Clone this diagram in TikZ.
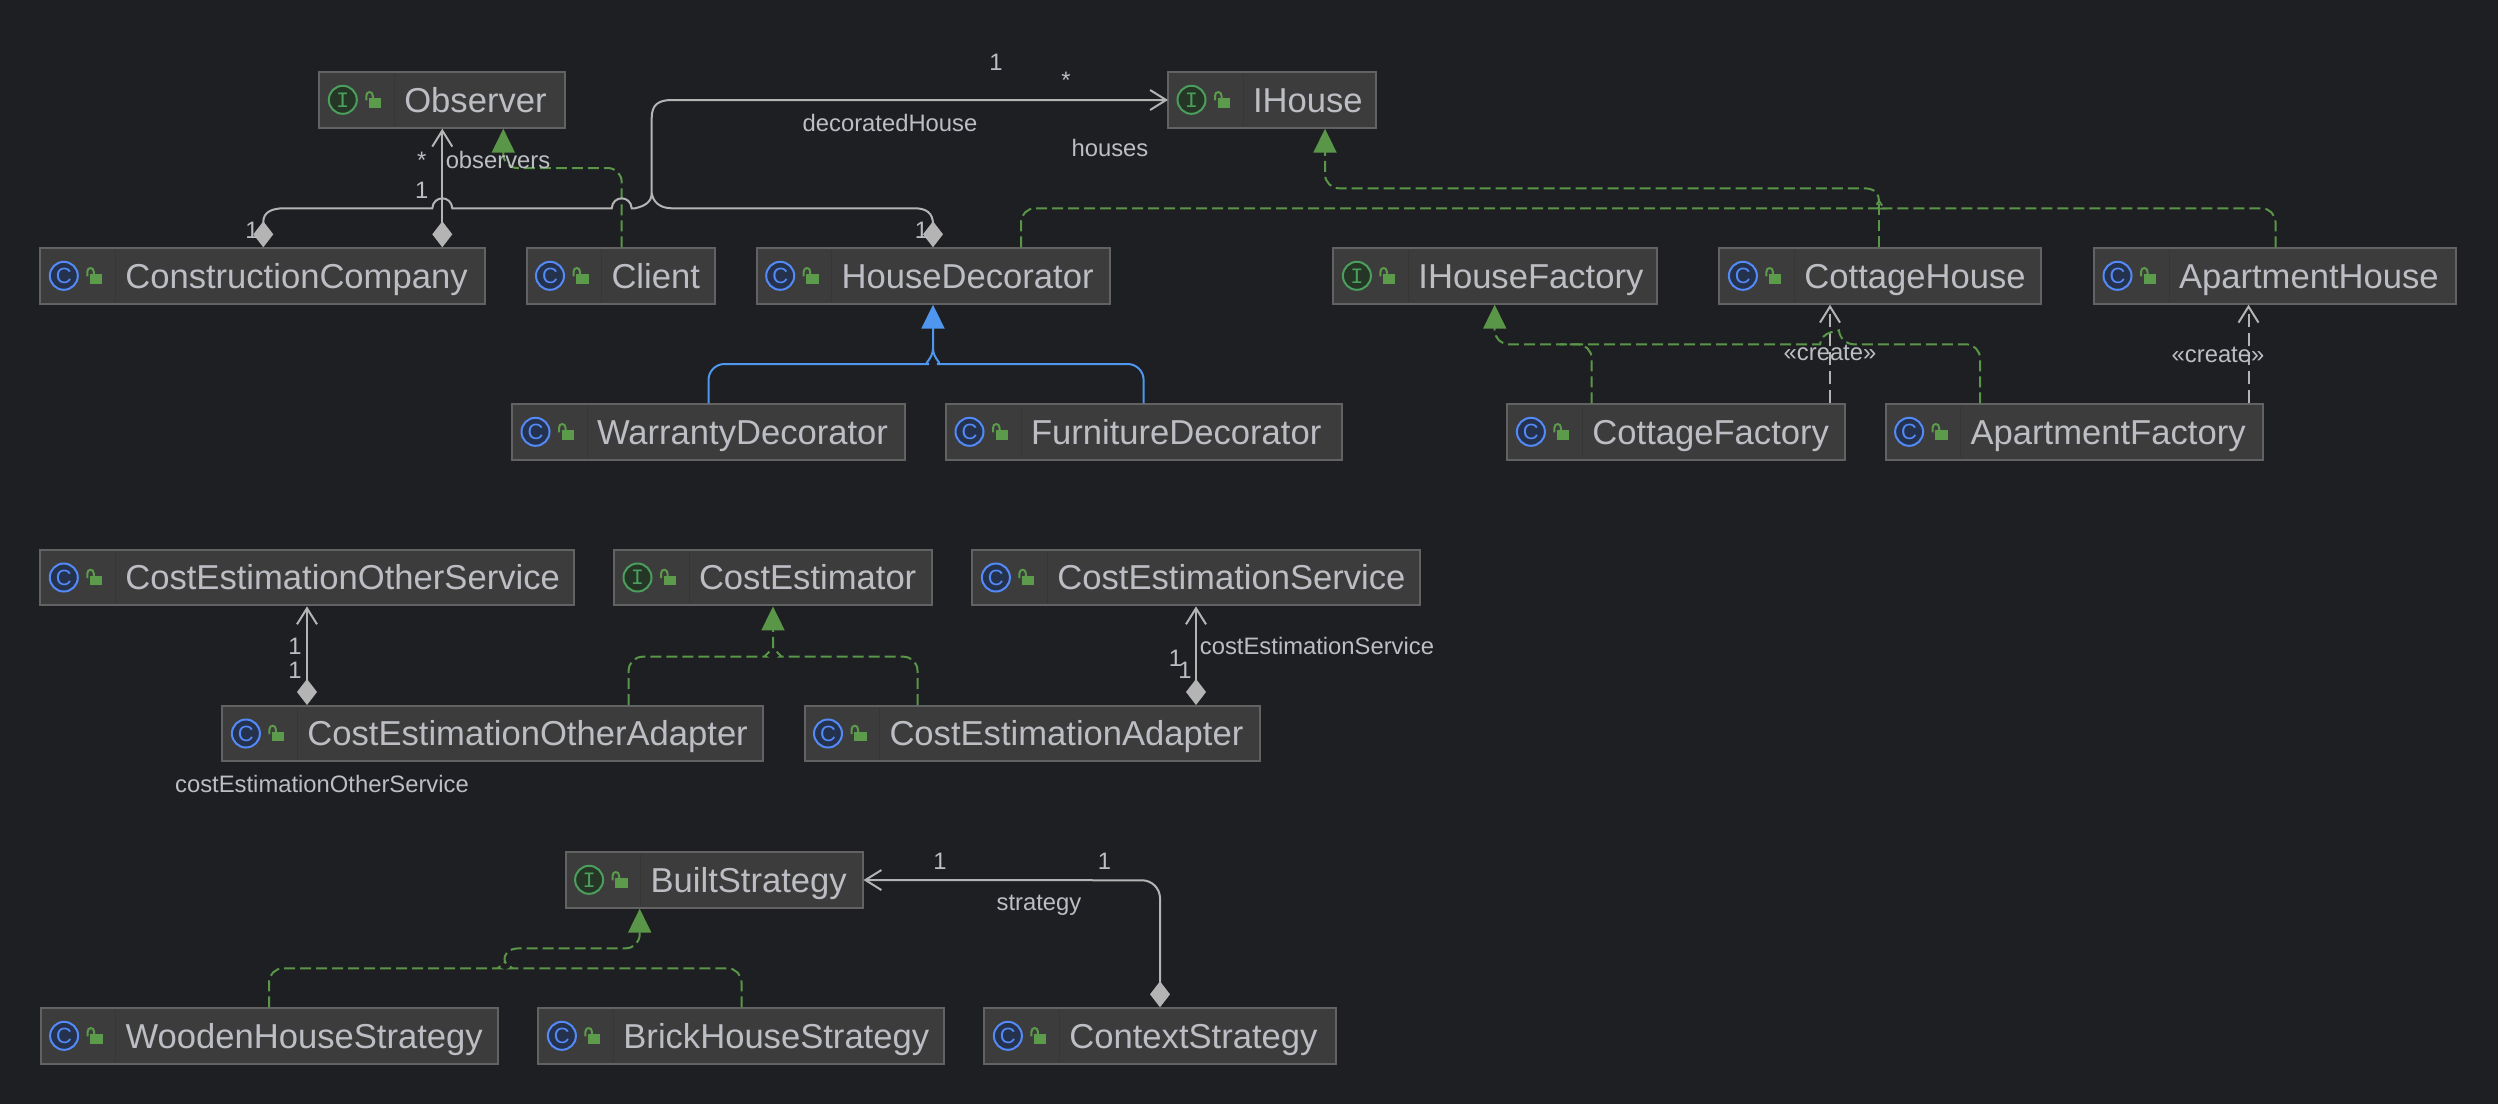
\documentclass[tikz,border=0pt]{standalone}
\usepackage{fontspec}
\setmainfont{Liberation Sans}
\newfontfamily\monoicon{Liberation Mono}
\usetikzlibrary{arrows.meta}
\definecolor{bgc}{HTML}{1E1F22}
\definecolor{boxfill}{HTML}{3C3C3C}
\definecolor{boxline}{HTML}{626262}
\definecolor{sepline}{HTML}{363636}
\definecolor{txt}{HTML}{BCBEC4}
\definecolor{linegrey}{HTML}{B4B4B4}
\definecolor{greenl}{HTML}{5A9648}
\definecolor{greenf}{HTML}{5C9A4C}
\definecolor{bluel}{HTML}{4F97EE}
\definecolor{iconblue}{HTML}{548AF7}
\definecolor{iconbluef}{HTML}{25324D}
\definecolor{icongreen}{HTML}{4B9E5C}
\definecolor{icongreenf}{HTML}{253627}
\tikzset{
  x=0.5pt,y=-0.5pt,
  dmdtip/.tip={Diamond[length=13pt,width=10pt]},
  opentip/.tip={Straight Barb[length=8pt,width=10pt]},
  tritip/.tip={Triangle[length=12pt,width=11.5pt]},
  classbox/.style={draw=boxline,fill=boxfill,line width=1pt,inner sep=0pt,anchor=center,
    text=txt,minimum height=27.7pt,text height=14.5pt,text depth=2.3pt,
    font=\fontsize{17.3}{20}\selectfont},
  lbl/.style={text=txt,inner sep=0pt,font=\fontsize{11.9}{14}\selectfont},
  assoc/.style={draw=linegrey,line width=1pt},
  realize/.style={draw=greenl,line width=1pt,dash pattern=on 5.5pt off 2.5pt},
  extend/.style={draw=bluel,line width=1pt},
  depend/.style={draw=linegrey,line width=1pt,dash pattern=on 6.5pt off 3pt},
  rc/.style={rounded corners=7pt},
  rb/.style={rounded corners=8pt},
}
\newcommand\cls[6]{%
  \pgfmathsetlengthmacro{\boxw}{(#3-#2)*0.5pt}%
  \node[classbox,minimum width=\boxw] (#1) at ({(#2+#3)/2},{#4+27.7})
    {\makebox[\boxw][l]{\hspace{42.5pt}#6}};
  \begin{scope}[shift={(#2,#4)}]
    \draw[sepline,line width=.5pt] (75,2) -- (75,54);
    \if#5C
      \node[circle,draw=iconblue,fill=iconbluef,line width=1pt,minimum size=14pt,inner sep=0pt,
        text=iconblue,font=\fontsize{11}{11}\selectfont] (#1-icon) at (23.5,27.5) {C};
    \else
      \node[circle,draw=icongreen,fill=icongreenf,line width=1pt,minimum size=14pt,inner sep=0pt,
        text=icongreen,font=\monoicon\fontsize{11}{11}\selectfont] (#1-icon) at (23.5,27.5) {I};
    \fi
    \fill[greenf] (49.7,26) rectangle (62,35.4);
    \draw[greenf,line width=1pt] (47,28) -- (47,23.5) .. controls (47,18.5) and (53.5,18.5) .. (53.5,23.5) -- (53.5,26);
  \end{scope}
}
\begin{document}
\begin{tikzpicture}
\fill[bgc] (0,0) rectangle (2498,1104);
\useasboundingbox (0,0) rectangle (2498,1104);

\cls{obs}{319.3}{564.7}{72.3}{I}{Observer}
\cls{ih}{1168}{1376}{72.3}{I}{IHouse}
\cls{cc}{40.3}{485.3}{248.3}{C}{ConstructionCompany}
\cls{cli}{526.5}{715.4}{248.3}{C}{Client}
\cls{hd}{756.7}{1109.7}{248.3}{C}{HouseDecorator}
\cls{ihf}{1333.4}{1657}{248.3}{I}{IHouseFactory}
\cls{ch}{1719.4}{2041}{248.3}{C}{CottageHouse}
\cls{ah}{2094}{2456}{248.3}{C}{ApartmentHouse}
\cls{wd}{512}{905}{404.3}{C}{WarrantyDecorator}
\cls{fd}{946}{1341.6}{404.3}{C}{FurnitureDecorator}
\cls{cf}{1507.4}{1844.8}{404.3}{C}{CottageFactory}
\cls{af}{1885.6}{2262.5}{404.3}{C}{ApartmentFactory}
\cls{ceos}{40.3}{573.5}{550}{C}{CostEstimationOtherService}
\cls{ce}{614}{931.8}{550}{I}{CostEstimator}
\cls{ces}{972.4}{1419.7}{550}{C}{CostEstimationService}
\cls{ceoa}{222.4}{763}{706}{C}{CostEstimationOtherAdapter}
\cls{cea}{804.5}{1259.5}{706}{C}{CostEstimationAdapter}
\cls{bs}{565.6}{862.5}{852.3}{I}{BuiltStrategy}
\cls{wh}{40.6}{497.8}{1008.3}{C}{WoodenHouseStrategy}
\cls{bh}{538.4}{943.8}{1008.3}{C}{BrickHouseStrategy}
\cls{cs}{984.4}{1335.7}{1008.3}{C}{ContextStrategy}

\coordinate (trunk) at (651.7,193);
\coordinate (hjoin) at (1879,201);
\coordinate (bjoin) at (933,348);
\coordinate (ejoin) at (773,647);
\coordinate (sjoin) at (505,962);

% observers
\draw[assoc,dmdtip-opentip] (442.3,0 |- cc.north) -- (442.3,0 |- obs.south);
% realization Client -> Observer
\draw[realize,rc,-tritip] (621.7,0 |- cli.north) -- (621.7,168) -- (503.3,168) -- (503.3,0 |- obs.south);
% association to IHouse
\draw[assoc,dmdtip-opentip] (263.3,0 |- cc.north) -- (263.3,222) .. controls (263.3,212) and (272,208.3) .. (284,208.3)
  -- (432.3,208.3) .. controls (433.3,195) and (451.3,195) .. (452.3,208.3)
  -- (611.7,208.3) .. controls (612.7,195) and (630.7,195) .. (631.7,208.3)
  -- (635,208.3) .. controls (645,206) and (651.7,202) .. (trunk)
  -- (651.7,118) .. controls (651.7,105) and (658,100) .. (672,100) -- (1168,0 |- ih.west);
\draw[assoc,dmdtip-] (933,0 |- hd.north) -- (933,224) .. controls (933,213) and (926,208.3) .. (915,208.3)
  -- (672,208.3) .. controls (660,208.3) and (653,202) .. (trunk);
% inheritance HouseDecorator
\draw[extend,-tritip] (708.5,0 |- wd.north) [rb] -- (708.5,364) -- (913,364) [sharp corners] .. controls (922,364) and (933,360) .. (bjoin) -- (933,0 |- hd.south);
\draw[extend] (1143.6,0 |- fd.north) [rb] -- (1143.6,364) -- (953,364) [sharp corners] .. controls (944,364) and (933,360) .. (bjoin);
% realization IHouse
\draw[realize,-tritip] (1021,0 |- hd.north) [rc] -- (1021,208.3) -- (1864,208.3) [sharp corners] .. controls (1872,208.3) and (1877,205) .. (hjoin)
  .. controls (1879,194) and (1875,188.3) .. (1864,188.3) [rc] -- (1325,188.3) -- (1325,0 |- ih.south);
\draw[realize] (1879,0 |- ch.north) -- (hjoin);
\draw[realize] (2275.5,0 |- ah.north) [rc] -- (2275.5,208.3) -- (1895,208.3) [sharp corners] .. controls (1886,208.3) and (1881,205) .. (hjoin);
% create
\draw[depend,-opentip] (1830,0 |- cf.north) -- (1830,0 |- ch.south);
\draw[depend,-opentip] (2248.5,0 |- af.north) -- (2248.5,0 |- ah.south);
% realization IHouseFactory
\draw[realize,-tritip] (1980,0 |- af.north) [rc] -- (1980,344.3) -- (1840,344.3) [sharp corners]
  .. controls (1839,331) and (1821,331) .. (1820,344.3) [rc] -- (1494.7,344.3) -- (1494.7,0 |- ihf.south);
\draw[realize,rc] (1591.6,0 |- cf.north) -- (1591.6,344.3) -- (1560,344.3);
% cost estimation
\draw[assoc,dmdtip-opentip] (307,0 |- ceoa.north) -- (307,0 |- ceos.south);
\draw[assoc,dmdtip-opentip] (1196,0 |- cea.north) -- (1196,0 |- ces.south);
\draw[realize,-tritip] (628.6,0 |- ceoa.north) [rc] -- (628.6,656.7) -- (752,656.7) [sharp corners] .. controls (762,656.7) and (770,653) .. (ejoin) -- (773,0 |- ce.south);
\draw[realize] (917.5,0 |- cea.north) [rc] -- (917.5,656.7) -- (794,656.7) [sharp corners] .. controls (784,656.7) and (776,653) .. (ejoin);
% strategy
\draw[assoc,rounded corners=9pt,dmdtip-opentip] (1160,0 |- cs.north) -- (1160,880.3) -- (bs.east);
\draw[realize,-tritip] (269,0 |- wh.north) [rc] -- (269,968.3) -- (485,968.3) [sharp corners] .. controls (495,968.3) and (503,966) .. (sjoin)
  .. controls (503,954) and (508,948.3) .. (520,948.3) [rc] -- (639.7,948.3) -- (639.7,0 |- bs.south);
\draw[realize] (741.5,0 |- bh.north) [rc] -- (741.5,968.3) -- (525,968.3) [sharp corners] .. controls (515,968.3) and (507,966) .. (sjoin);

% labels
\node[lbl] (l01) at (996,62.7) {1};
\node[lbl] (l02) at (1066,80) {*};
\node[lbl] (l03) at (890,122.7) {decoratedHouse};
\node[lbl] (l04) at (1110,148) {houses};
\node[lbl] (l05) at (421.7,160) {*};
\node[lbl] (l06) at (498,160) {observers};
\node[lbl] (l07) at (421.7,190) {1};
\node[lbl] (l08) at (252,230) {1};
\node[lbl] (l09) at (921.5,230) {1};
\node[lbl] (l10) at (1830,352.7) {«create»};
\node[lbl] (l11) at (2218,355) {«create»};
\node[lbl] (l12) at (295,646) {1};
\node[lbl] (l13) at (295,670) {1};
\node[lbl] (l14) at (322,784) {costEstimationOtherService};
\node[lbl] (l15) at (1175.5,658) {1};
\node[lbl] (l16) at (1185,670) {1};
\node[lbl] (l17) at (1317,646) {costEstimationService};
\node[lbl] (l18) at (940,861.7) {1};
\node[lbl] (l19) at (1104.5,861.7) {1};
\node[lbl] (l20) at (1039,905) {strategy};
\end{tikzpicture}
\end{document}
